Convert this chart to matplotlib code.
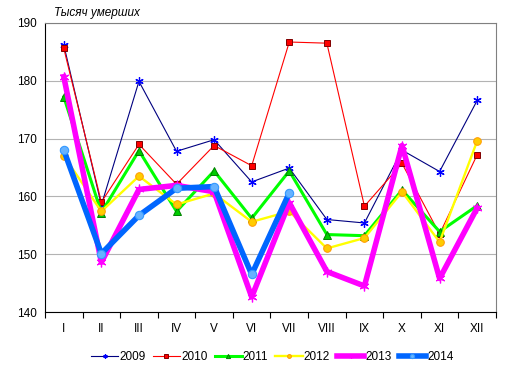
import matplotlib
matplotlib.use("Agg")
import matplotlib.pyplot as plt
import numpy as np

plt.rcParams['font.family'] = ['Liberation Sans', 'DejaVu Sans']

months = ["I", "II", "III", "IV", "V", "VI", "VII", "VIII", "IX", "X", "XI", "XII"]
y2009 = [186.2, 158.5, 179.9, 167.8, 169.8, 162.5, 164.9, 156.0, 155.4, 168.0, 164.3, 176.6]
y2010 = [185.6, 159.0, 169.0, 162.1, 168.8, 165.3, 186.7, 186.5, 158.3, 165.7, 153.5, 167.2]
y2011 = [177.2, 157.2, 167.9, 157.4, 164.4, 156.2, 164.4, 153.4, 153.2, 161.1, 153.9, 158.4]
y2012 = [167.0, 157.4, 163.5, 158.6, 160.5, 155.6, 157.4, 151.0, 152.8, 160.8, 152.1, 169.6]
y2013 = [180.7, 148.6, 161.2, 161.9, 160.8, 142.6, 158.9, 147.0, 144.5, 168.8, 145.8, 158.0]
y2014 = [168.0, 150.1, 156.7, 161.4, 161.7, 146.5, 160.6]

fig = plt.figure(figsize=(5.09, 3.73), dpi=100)
ax = fig.add_axes([0.0884, 0.1635, 0.886, 0.775])

x = np.arange(len(months))
ast = (6, 2, 0)

ax.plot(x, y2009, color='#000080', lw=0.8, marker=ast, ms=6, mec='#0000FF', mfc='#0000FF', mew=0.9, label='2009', zorder=3)
ax.plot(x, y2010, color='#FF0000', lw=0.8, marker='s', ms=5, mec='#800000', mfc='#FF0000', mew=0.7, label='2010', zorder=3)
ax.plot(x, y2011, color='#00FF00', lw=2.2, marker='^', ms=6, mec='#008000', mfc='#00CC00', mew=0.7, label='2011', zorder=3)
ax.plot(x, y2012, color='#FFFF00', lw=1.7, marker='o', ms=5.5, mec='#FF9900', mfc='#FFCC00', mew=0.7, label='2012', zorder=3)
ax.plot(x[:len(y2013)], y2013, color='#FF00FF', lw=4.0, marker=ast, ms=7, mec='#FF00FF', mfc='#FF00FF', mew=0.9, label='2013', zorder=4)
ax.plot(x[:len(y2014)], y2014, color='#0066FF', lw=4.0, marker='o', ms=6, mec='#3399FF', mfc='#66B2FF', mew=0.8, label='2014', zorder=5)

ax.set_xlim(-0.5, len(months) - 0.5)
ax.set_ylim(140, 190)
ax.set_yticks([140, 150, 160, 170, 180, 190])
ax.set_xticks(x)
ax.set_xticklabels(months)
ax.set_xticks(np.arange(-0.5, len(months), 1.0), minor=True)
ax.tick_params(axis='x', which='major', length=0, pad=8, labelsize=8.5)
ax.tick_params(axis='x', which='minor', length=4, width=0.8, direction='out')
ax.tick_params(axis='y', length=0, pad=6, labelsize=8.5)
ax.yaxis.grid(True, color='#B3B3B3', lw=0.8)
ax.set_axisbelow(True)
ax.spines['left'].set_color('black')
ax.spines['bottom'].set_color('black')
ax.spines['top'].set_color('#808080')
ax.spines['right'].set_color('#808080')

ax.text(0.02, 1.012, 'Тысяч умерших', transform=ax.transAxes, fontsize=8.5, style='italic', ha='left', va='bottom')

leg = fig.legend(loc='center', bbox_to_anchor=(0.535, 0.043), ncol=6, frameon=False, fontsize=8.5,
                 handlelength=2.3, handletextpad=0.1, columnspacing=0.6, markerscale=0.5)

fig.savefig('out.png', dpi=100)
